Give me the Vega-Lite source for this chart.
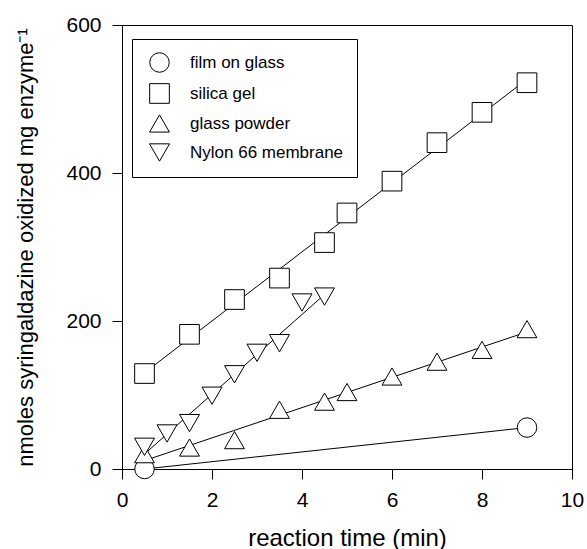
{
  "$schema": "https://vega.github.io/schema/vega-lite/v6.json",
  "width": 450,
  "height": 444,
  "autosize": {"type": "none"},
  "padding": {"left": 122, "top": 25, "right": 15, "bottom": 80},
  "background": "white",
  "config": {
    "font": "Liberation Sans",
    "view": {"stroke": "black", "strokeWidth": 1},
    "axis": {
      "grid": false,
      "domainColor": "black",
      "tickColor": "black",
      "tickSize": 10,
      "labelFont": "Liberation Sans",
      "labelFontSize": 21,
      "labelColor": "black",
      "titleFont": "Liberation Sans",
      "titleFontSize": 22,
      "titleFontWeight": "normal",
      "titleColor": "black"
    },
    "legend": {
      "labelFont": "Liberation Sans",
      "labelFontSize": 17,
      "labelColor": "black"
    }
  },
  "data": {
    "values": [
      {"series": "film on glass", "x": 0.5, "y": 0},
      {"series": "film on glass", "x": 9, "y": 56},
      {"series": "silica gel", "x": 0.5, "y": 129},
      {"series": "silica gel", "x": 1.5, "y": 182},
      {"series": "silica gel", "x": 2.5, "y": 229},
      {"series": "silica gel", "x": 3.5, "y": 258},
      {"series": "silica gel", "x": 4.5, "y": 306},
      {"series": "silica gel", "x": 5, "y": 346},
      {"series": "silica gel", "x": 6, "y": 389},
      {"series": "silica gel", "x": 7, "y": 441},
      {"series": "silica gel", "x": 8, "y": 482},
      {"series": "silica gel", "x": 9, "y": 522},
      {"series": "glass powder", "x": 0.5, "y": 20},
      {"series": "glass powder", "x": 1.5, "y": 29},
      {"series": "glass powder", "x": 2.5, "y": 39},
      {"series": "glass powder", "x": 3.5, "y": 80},
      {"series": "glass powder", "x": 4.5, "y": 91},
      {"series": "glass powder", "x": 5, "y": 104},
      {"series": "glass powder", "x": 6, "y": 125},
      {"series": "glass powder", "x": 7, "y": 145},
      {"series": "glass powder", "x": 8, "y": 161},
      {"series": "glass powder", "x": 9, "y": 189},
      {"series": "Nylon 66 membrane", "x": 0.5, "y": 30},
      {"series": "Nylon 66 membrane", "x": 1, "y": 48},
      {"series": "Nylon 66 membrane", "x": 1.5, "y": 62},
      {"series": "Nylon 66 membrane", "x": 2, "y": 99},
      {"series": "Nylon 66 membrane", "x": 2.5, "y": 128},
      {"series": "Nylon 66 membrane", "x": 3, "y": 157},
      {"series": "Nylon 66 membrane", "x": 3.5, "y": 170},
      {"series": "Nylon 66 membrane", "x": 4, "y": 225},
      {"series": "Nylon 66 membrane", "x": 4.5, "y": 233}
    ]
  },
  "layer": [
    {
      "transform": [{"regression": "y", "on": "x", "groupby": ["series"]}],
      "mark": {"type": "line", "color": "black", "strokeWidth": 1},
      "encoding": {
        "x": {"field": "x", "type": "quantitative"},
        "y": {"field": "y", "type": "quantitative"},
        "detail": {"field": "series", "type": "nominal"}
      }
    },
    {
      "mark": {"type": "point", "filled": true, "fill": "white", "stroke": "black", "strokeWidth": 1, "opacity": 1},
      "encoding": {
        "x": {
          "field": "x", "type": "quantitative",
          "scale": {"domain": [0, 10], "nice": false},
          "axis": {"values": [0, 2, 4, 6, 8, 10], "title": "reaction time (min)", "labelPadding": 10, "titlePadding": 16, "titleFontSize": 24, "labelFlush": false}
        },
        "y": {
          "field": "y", "type": "quantitative",
          "scale": {"domain": [0, 600], "nice": false},
          "axis": {"values": [0, 200, 400, 600], "title": "nmoles syringaldazine oxidized mg enzyme⁻¹", "labelPadding": 11, "titlePadding": 28, "labelFlush": false}
        },
        "shape": {
          "field": "series", "type": "nominal",
          "scale": {
            "domain": ["film on glass", "silica gel", "glass powder", "Nylon 66 membrane"],
            "range": ["circle", "square", "triangle-up", "triangle-down"]
          },
          "legend": {
            "title": null,
            "orient": "none",
            "legendX": 10,
            "legendY": 14,
            "strokeColor": "black",
            "padding": 13,
            "rowPadding": 6,
            "symbolOffset": 4,
            "labelOffset": 20,
            "symbolFillColor": "white",
            "symbolStrokeColor": "black",
            "symbolStrokeWidth": 1
          }
        },
        "size": {
          "field": "series", "type": "nominal",
          "scale": {
            "domain": ["film on glass", "silica gel", "glass powder", "Nylon 66 membrane"],
            "range": [380, 400, 500, 500]
          }
        }
      }
    }
  ]
}
